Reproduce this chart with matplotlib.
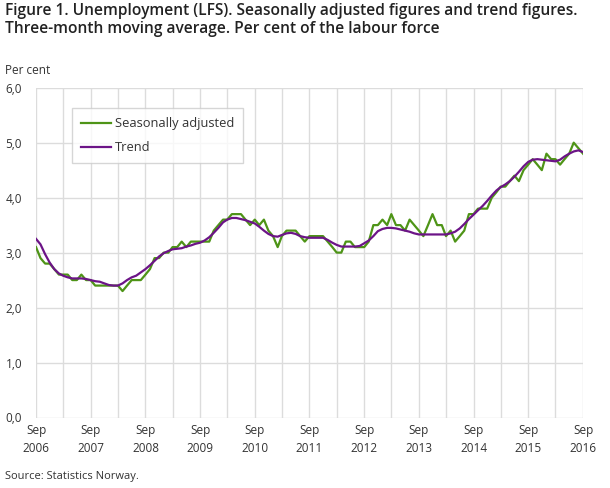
import pandas as pd
import matplotlib
matplotlib.use('Agg')
import matplotlib.pyplot as plt

plt.rcParams['font.family'] = ['Open Sans', 'DejaVu Sans']

# monthly, Sep 2006 - Sep 2016
months = pd.date_range('2006-09-01', '2016-09-01', freq='MS')

seas_adj = [3.1, 2.9, 2.8, 2.8, 2.7, 2.6, 2.6, 2.6, 2.5, 2.5, 2.6, 2.5,
            2.5, 2.4, 2.4, 2.4, 2.4, 2.4, 2.4, 2.3, 2.4, 2.5, 2.5, 2.5,
            2.6, 2.7, 2.9, 2.9, 3.0, 3.0, 3.1, 3.1, 3.2, 3.1, 3.2, 3.2,
            3.2, 3.2, 3.2, 3.4, 3.5, 3.6, 3.6, 3.7, 3.7, 3.7, 3.6, 3.5,
            3.6, 3.5, 3.6, 3.4, 3.3, 3.1, 3.3, 3.4, 3.4, 3.4, 3.3, 3.2,
            3.3, 3.3, 3.3, 3.3, 3.2, 3.1, 3.0, 3.0, 3.2, 3.2, 3.1, 3.1,
            3.1, 3.2, 3.5, 3.5, 3.6, 3.5, 3.7, 3.5, 3.5, 3.4, 3.6, 3.5,
            3.4, 3.3, 3.5, 3.7, 3.5, 3.5, 3.3, 3.4, 3.2, 3.3, 3.4, 3.7,
            3.7, 3.8, 3.8, 3.8, 4.0, 4.1, 4.2, 4.2, 4.3, 4.4, 4.3, 4.5,
            4.6, 4.7, 4.6, 4.5, 4.8, 4.7, 4.7, 4.6, 4.7, 4.8, 5.0, 4.9,
            4.8]

trend = [3.25, 3.15, 2.97, 2.82, 2.70, 2.62, 2.58, 2.55, 2.53, 2.53, 2.53, 2.52,
         2.50, 2.48, 2.47, 2.44, 2.41, 2.40, 2.40, 2.44, 2.50, 2.55, 2.58, 2.64,
         2.70, 2.77, 2.85, 2.93, 2.99, 3.03, 3.06, 3.07, 3.08, 3.11, 3.13, 3.16,
         3.18, 3.22, 3.28, 3.36, 3.45, 3.55, 3.60, 3.63, 3.63, 3.61, 3.59, 3.56,
         3.53, 3.47, 3.40, 3.34, 3.30, 3.29, 3.32, 3.35, 3.36, 3.34, 3.30, 3.28,
         3.27, 3.27, 3.27, 3.27, 3.23, 3.18, 3.14, 3.11, 3.11, 3.11, 3.11, 3.12,
         3.17, 3.22, 3.30, 3.39, 3.43, 3.45, 3.45, 3.44, 3.42, 3.40, 3.38, 3.35,
         3.33, 3.33, 3.33, 3.33, 3.33, 3.33, 3.33, 3.35, 3.38, 3.44, 3.52, 3.61,
         3.69, 3.77, 3.85, 3.94, 4.04, 4.13, 4.19, 4.24, 4.30, 4.38, 4.47, 4.57,
         4.65, 4.69, 4.70, 4.69, 4.68, 4.67, 4.66, 4.69, 4.75, 4.80, 4.84, 4.86,
         4.83]

yticks = [0, 1, 2, 3, 4, 5, 6]
ytick_labels = ['0,0', '1,0', '2,0', '3,0', '4,0', '5,0', '6,0']

green = '#4e9417'
purple = '#6c1487'
txt = '#333333'

fig = plt.figure(figsize=(6.1, 4.88), dpi=100)
ax = fig.add_axes([36/610, 1-417.5/488, 547/610, 329.8/488])

ax.plot(months, seas_adj, color=green, lw=1.6, label='Seasonally adjusted', zorder=3)
ax.plot(months, trend, color=purple, lw=1.6, label='Trend', zorder=4)

ax.set_xlim(months[0], months[-1])
ax.set_ylim(0, 6)

# gridlines every 6 months, labels only on September
ticks = [d for d in months if d.month in (3, 9)]
labels = ['Sep\n%d' % d.year if d.month == 9 else '' for d in ticks]
ax.set_xticks(ticks)
ax.set_xticklabels(labels, fontsize=8.5, color=txt, linespacing=1.5)
ax.set_yticks(yticks)
ax.set_yticklabels(ytick_labels, fontsize=8.5, color=txt)
ax.tick_params(axis='both', length=0)
ax.tick_params(axis='x', pad=5)
ax.tick_params(axis='y', pad=10)

ax.grid(True, color='#dcdcdc', lw=1)
ax.set_axisbelow(True)
for s in ax.spines.values():
    s.set_visible(False)

leg = ax.legend(loc='upper left', bbox_to_anchor=(0.066, 0.938), borderaxespad=0,
                fontsize=9.3, frameon=True, fancybox=False, handlelength=2.3,
                handletextpad=0.3, labelspacing=0.85, borderpad=0.7)
leg.get_frame().set_edgecolor('#cccccc')
leg.get_frame().set_linewidth(1)
for t in leg.get_texts():
    t.set_color(txt)

fig.text(5/610, 1-3/488, 'Figure 1. Unemployment (LFS). Seasonally adjusted figures and trend figures.\n'
         'Three-month moving average. Per cent of the labour force',
         fontsize=11.2, color='#222222', va='top', ha='left', linespacing=1.2,
         fontweight='semibold')
fig.text(5/610, 1-70/488, 'Per cent', fontsize=8.5, color=txt, va='center', ha='left')
fig.text(5/610, 1-476/488, 'Source: Statistics Norway.', fontsize=8, color=txt, va='center', ha='left')

fig.savefig('out.png', dpi=100)
